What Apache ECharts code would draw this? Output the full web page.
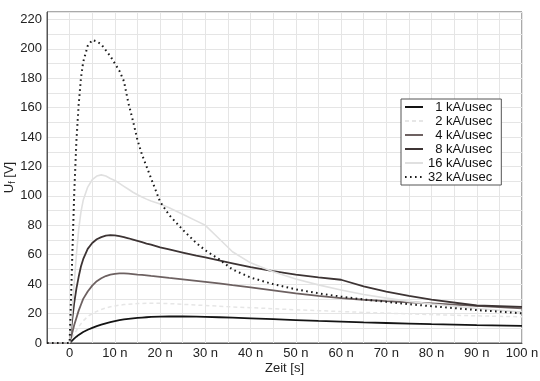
<!DOCTYPE html>
<html>
<head>
<meta charset="utf-8">
<script src="https://cdn.jsdelivr.net/npm/echarts@6/dist/echarts.min.js"></script>
<style>
html,body{margin:0;padding:0;background:#fff;}
#chart{width:540px;height:381px;}
</style>
</head>
<body>
<div id="chart"></div>
<script>
// time in ns
var times = [-5, 0, 0.5, 1, 1.5, 2, 2.5, 3, 4, 5, 6, 7, 8, 9, 10, 11, 12, 13, 14, 15, 16, 17, 18, 20, 22, 25, 28, 30, 33, 36, 40, 45, 50, 55, 60, 65, 70, 75, 80, 90, 100];
var seriesNames = ['1 kA/usec', '2 kA/usec', '4 kA/usec', '8 kA/usec', '16 kA/usec', '32 kA/usec'];
var u1 = [0,0,1.5,3,4.3,5.5,6.5,7.5,9,10.3,11.5,12.5,13.4,14.2,14.9,15.5,16,16.4,16.8,17.1,17.3,17.5,17.7,17.9,18,18,17.9,17.8,17.5,17.2,16.8,16.2,15.6,15,14.5,14,13.6,13.2,12.8,12.2,11.7];
var u2 = [0,0,3,6,8.5,11,13,15,18,20,21.5,22.8,23.8,24.6,25.2,25.7,26.1,26.4,26.6,26.8,26.9,27,27,27,26.8,26.3,25.8,25.5,25,24.5,24,23.3,22.6,22,21.4,20.8,20.3,19.8,19.3,18.5,17.8];
var u4 = [0,0,6,12,17,22,26,30,35,39,42,44,45.5,46.5,47,47.3,47.3,47.1,46.8,46.5,46.3,46,45.6,45,44.3,43.3,42.3,41.6,40.5,39.3,37.8,35.8,33.8,32,30.5,29.4,28.5,27.7,27,25.3,23.5];
var u8 = [0,0,14,27,37,45,52,57,64,68,70.5,72,73,73.3,73.2,72.7,72,71.2,70.3,69.4,68.5,67.6,66.8,65,63.6,61.5,59.4,58.2,56.2,54.2,51.5,48.8,46.5,44.6,43,38.5,35,32,29.5,25.5,24.5];
var u16 = [0,0,20,40,60,77,89,97,106,111,113.5,114.3,113.5,111.8,110.5,108.5,106.5,104.5,102.5,100.8,99.2,97.8,96.6,94.5,92,87.5,83,80,71,62,54.5,48.4,43.5,39.5,36,33,30.5,28.3,26.5,23.5,21];
var u32 = [0,0,50,100,137,162,180,191,202,206,205,203,199,195,190,185,178,163,151,138,128,120,112,96,87,77,68,63,57,50,44.5,40,36.5,33.8,31.5,29.6,28,26.4,25,22.4,20.2];

var values = [u1, u2, u4, u8, u16, u32];
var styles = [
  {color:'#141414', width:1.8, type:'solid'},
  {color:'#e6e6e6', width:1.5, type:[4,3]},
  {color:'#6d6161', width:1.8, type:'solid'},
  {color:'#3d3434', width:1.8, type:'solid'},
  {color:'#e0e0e0', width:1.6, type:'solid'},
  {color:'#1a1a1a', width:2, type:[1.6,3.4]}
];
function pairs(v){ return times.map(function(t,i){ return [t, v[i]]; }); }
var FS = '\u2007';
var series = seriesNames.map(function(n, k){
  return {
    name: n, type: 'line', data: pairs(values[k]), showSymbol: false, symbol: 'none',
    smooth: false, animation: false,
    lineStyle: {color: styles[k].color, width: styles[k].width, type: styles[k].type, cap: 'butt'},
    itemStyle: {color: styles[k].color}
  };
});
var font = 'Liberation Sans, Arial, sans-serif';
var chart = echarts.init(document.getElementById('chart'), null, {renderer:'canvas'});
chart.setOption({
  animation: false,
  backgroundColor: '#fff',
  grid: {left: 47, right: 18, top: 12, bottom: 38, show: true, borderColor: '#555', borderWidth: 1,
    backgroundColor: 'transparent', containLabel: false, outerBoundsMode: 'none'},
  legend: {
    orient: 'vertical', left: 401, top: 99,
    itemWidth: 18, itemHeight: 14, itemGap: 0,
    padding: [1, 9, 1, 3],
    borderColor: '#555', borderWidth: 1, backgroundColor: '#fff',
    itemStyle: {opacity: 0, borderWidth: 0},
    data: seriesNames,
    formatter: function(n){ return (n.indexOf('1')===0 && n.length===9) || /^[248] /.test(n) ? FS + n : n; },
    textStyle: {fontFamily: font, fontSize: 13, color: '#111', lineHeight: 14}
  },
  xAxis: {
    type: 'value', min: -5, max: 100, interval: 5,
    name: 'Zeit [s]', nameLocation: 'middle', nameGap: 19, nameMoveOverlap: false,
    nameTextStyle: {fontFamily: font, fontSize: 13, color: '#222'},
    axisLine: {show: true, onZero: false, lineStyle: {color: '#555', width: 1}},
    axisTick: {show: false},
    axisLabel: {fontFamily: font, fontSize: 13, color: '#222', margin: 4,
      showMinLabel: false, showMaxLabel: true,
      formatter: function(v){ if (v % 10 !== 0) return ''; return v === 0 ? '0' : v + ' n'; }},
    splitLine: {show: true, lineStyle: {color: '#e5e5e5', width: 1}}
  },
  yAxis: {
    type: 'value', min: 0, max: 225, interval: 10,
    name: 'U{sub|f} [V]', nameLocation: 'middle', nameGap: 30, nameRotate: 90, nameMoveOverlap: false,
    nameTextStyle: {fontFamily: font, fontSize: 13, color: '#222',
      rich: {sub: {fontFamily: font, fontSize: 9, color: '#222', verticalAlign: 'bottom', padding: [6,0,0,0]}}},
    axisLine: {show: true, onZero: false, lineStyle: {color: '#555', width: 1}},
    axisTick: {show: false},
    axisLabel: {fontFamily: font, fontSize: 13, color: '#222', margin: 5,
      showMaxLabel: false,
      formatter: function(v){ return v % 20 === 0 ? String(v) : ''; }},
    splitLine: {show: true, lineStyle: {color: '#e5e5e5', width: 1}}
  },
  series: series
});
</script>
</body>
</html>
